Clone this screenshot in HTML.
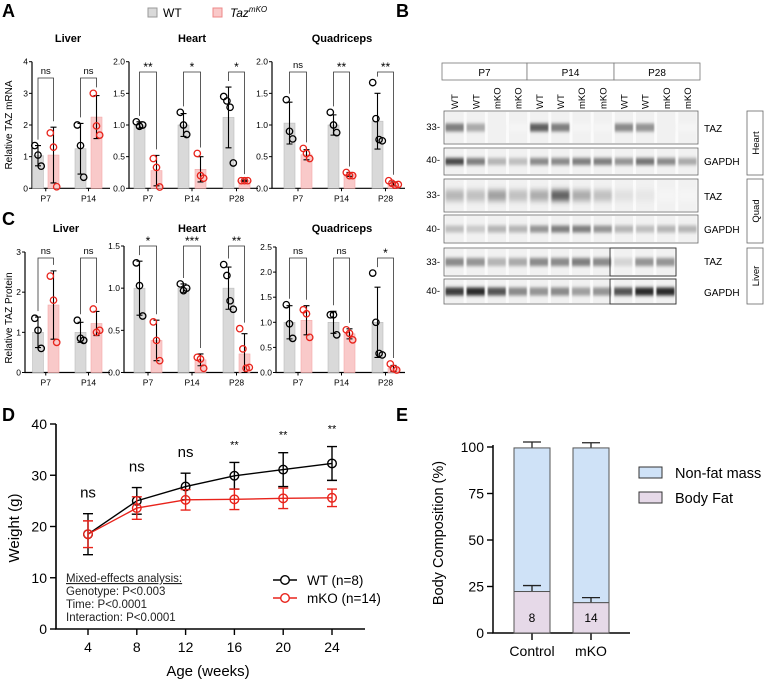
<!DOCTYPE html>
<html><head><meta charset="utf-8">
<style>
html,body{margin:0;padding:0;background:#fff;}
svg{display:block;font-family:"Liberation Sans",Arial,sans-serif;}
</style></head>
<body>
<svg id="fig" width="774" height="682" viewBox="0 0 774 682" xmlns="http://www.w3.org/2000/svg">
<defs>
<filter id="blur1" x="-20%" y="-100%" width="140%" height="300%"><feGaussianBlur stdDeviation="0.8 1.6"/></filter>
<filter id="blur2" x="-20%" y="-100%" width="140%" height="300%"><feGaussianBlur stdDeviation="1 3"/></filter>
</defs>
<g font-weight="bold" font-size="18">
<text x="2" y="17">A</text>
<text x="396" y="17">B</text>
<text x="2" y="225">C</text>
<text x="2" y="421">D</text>
<text x="396" y="421">E</text>
</g>
<g font-size="12">
<rect x="148" y="8" width="9" height="9" fill="#d9d9d9" stroke="#999"/>
<text x="163" y="17">WT</text>
<rect x="213" y="8" width="9" height="9" fill="#f9c9c9" stroke="#e88"/>
<text x="230" y="17" font-style="italic">Taz<tspan font-size="8" dy="-5">mKO</tspan></text>
</g>
<text transform="translate(12,125) rotate(-90)" text-anchor="middle" font-size="10">Relative TAZ mRNA</text>
<text transform="translate(12,318) rotate(-90)" text-anchor="middle" font-size="10">Relative TAZ Protein</text>
<g id="bars"></g>
<g id="blot"></g>
<g id="lineD"></g>
<g id="stackE"></g>
</svg>
<script>
// ===== Panel A/C data =====
const timeLabels2=["P7","P14"];
const timeLabels3=["P7","P14","P28"];
const aLiverWtMean=[1.03,1.25], aLiverWtSd=[0.32,0.8], aLiverWtPts=[[1.35,1.05,0.7],[2.0,1.35,0.35]];
const aLiverKoMean=[1.05,2.25], aLiverKoSd=[0.88,0.68], aLiverKoPts=[[1.75,1.3,0.05],[3.0,1.97,1.68]];
const aLiverSig=["ns","ns"];
const aHeartWtMean=[1.0,1.0,1.12], aHeartWtSd=[0.05,0.18,0.48], aHeartWtPts=[[1.05,0.98,1.0],[1.2,1.0,0.85],[1.45,1.38,1.28,0.4]];
const aHeartKoMean=[0.28,0.3,0.12], aHeartKoSd=[0.24,0.2,0.01], aHeartKoPts=[[0.47,0.33,0.02],[0.55,0.2,0.16],[0.12,0.12,0.12]];
const aHeartSig=["**","*","*"];
const aQuadWtMean=[1.03,1.0,1.06], aQuadWtSd=[0.33,0.16,0.44], aQuadWtPts=[[1.4,0.9,0.78],[1.2,1.0,0.88],[1.67,1.1,0.77,0.75]];
const aQuadKoMean=[0.53,0.22,0.07], aQuadKoSd=[0.08,0.03,0.03], aQuadKoPts=[[0.63,0.55,0.47],[0.25,0.2,0.2],[0.12,0.08,0.05,0.06]];
const aQuadSig=["ns","**","**"];
const cLiverWtMean=[1.0,1.0], cLiverWtSd=[0.38,0.25], cLiverWtPts=[[1.35,1.05,0.6],[1.3,0.85,0.8]];
const cLiverKoMean=[1.68,1.22], cLiverKoSd=[0.85,0.3], cLiverKoPts=[[2.4,1.8,0.75],[1.58,1.0,1.05]];
const cLiverSig=["ns","ns"];
const cHeartWtMean=[1.0,1.0,1.0], cHeartWtSd=[0.32,0.05,0.25], cHeartWtPts=[[1.3,1.03,0.67],[1.05,0.97,1.0],[1.28,1.15,0.85,0.75]];
const cHeartKoMean=[0.38,0.15,0.22], cHeartKoSd=[0.24,0.07,0.24], cHeartKoPts=[[0.6,0.38,0.14],[0.18,0.16,0.05],[0.52,0.28,0.05,0.06]];
const cHeartSig=["*","***","**"];
const cQuadWtMean=[1.0,1.0,1.0], cQuadWtSd=[0.33,0.22,0.7], cQuadWtPts=[[1.35,0.97,0.68],[1.15,1.15,0.75],[1.98,1.0,0.38,0.35]];
const cQuadKoMean=[1.04,0.77,0.08], cQuadKoSd=[0.29,0.1,0.06], cQuadKoPts=[[1.25,1.17,0.7],[0.85,0.78,0.65],[0.17,0.08,0.05]];
const cQuadSig=["ns","ns","*"];
const ticksA4=[0,1,2,3,4], ticksA2=["0.0","0.5","1.0","1.5","2.0"], ticksC3=[0,1,2,3], ticksC15=["0.0","0.5","1.0","1.5"], ticksC25=["0.0","0.5","1.0","1.5","2.0","2.5"];

// ===== Panel B data =====
const laneLabels=["WT","WT","mKO","mKO","WT","WT","mKO","mKO","WT","WT","mKO","mKO"];
const heartTaz=[0.55,0.35,0.02,0,0.7,0.55,0,0,0.5,0.45,0.02,0];
const heartGapdh=[0.8,0.55,0.3,0.25,0.5,0.5,0.55,0.55,0.45,0.6,0.5,0.35];
const quadTaz=[0.3,0.25,0.4,0.25,0.35,0.7,0.35,0.25,0.1,0.07,0,0];
const quadGapdh=[0.25,0.2,0.3,0.3,0.45,0.55,0.55,0.45,0.3,0.25,0.3,0.3];
const liverTaz=[0.5,0.45,0.3,0.35,0.5,0.5,0.55,0.5,0.15,0.45,0.45];
const liverGapdh=[0.85,0.95,0.75,0.5,0.45,0.5,0.4,0.45,0.75,0.95,0.95];

// ===== Panel D data =====
const dWeeks=[4,8,12,16,20,24];
const dWtMean=[18.5,25.0,27.8,29.9,31.1,32.3];
const dWtErr=[4.0,2.6,2.6,2.6,3.3,3.3];
const dKoMean=[18.5,23.6,25.2,25.3,25.5,25.6];
const dKoErr=[2.6,2.2,2.0,2.0,2.0,1.7];
const dSig=["ns","ns","ns","**","**","**"];
const dTicks=[0,10,20,30,40];

// ===== Panel E data =====
const eGroups=["Control","mKO"];
const eFat=[22.3,16.3], eFatErr=[3.2,2.7];
const eTotal=[99.5,99.5], eTotalErr=[3.2,2.8];
const eN=["8","14"];
const eTicks=[0,25,50,75,100];

const NS="http://www.w3.org/2000/svg";
function mk(parent,tag,attrs,text){const e=document.createElementNS(NS,tag);for(const k in attrs)e.setAttribute(k,attrs[k]);if(text!==undefined)e.textContent=text;parent.appendChild(e);return e;}
const RED="#e8231b";

function barPanel(name,cfg,wtMean,wtSd,wtPts,koMean,koSd,koPts,sig,labels,ticks){
  const g=mk(document.getElementById('bars'),'g',{});
  
  
  const y=v=>cfg.y0-(v/cfg.max)*(cfg.y0-cfg.y1);
  const t=mk(g,'text',{x:cfg.titleX,y:cfg.titleY,'text-anchor':'middle','font-size':11,'font-weight':'bold'},cfg.title);
  
  
  const ax=mk(g,'path',{d:`M${cfg.ax},${cfg.y1}V${cfg.y0}H${cfg.axEnd}`,stroke:'#000','stroke-width':1.2,fill:'none'});
  
  
  ticks.forEach((tk,i)=>{
    const v=i*cfg.max/(ticks.length-1);
    mk(g,'line',{x1:cfg.ax-3,x2:cfg.ax,y1:y(v),y2:y(v),stroke:'#000'});
    const tl=mk(g,'text',{x:cfg.ax-4,y:y(v)+3,'text-anchor':'end','font-size':8.5},String(tk));
    
    
  });
  wtMean.forEach((m,i)=>{
    const xw=cfg.wtX[i], xk=cfg.koX[i];
    mk(g,'line',{x1:(xw+xk)/2,x2:(xw+xk)/2,y1:cfg.y0,y2:cfg.y0+3,stroke:'#000'});
    const xl=mk(g,'text',{x:(xw+xk)/2,y:cfg.y0+13,'text-anchor':'middle','font-size':8.5},labels[i]);
    
    
    [[xw,m,wtSd[i],wtPts[i],'#d9d9d9','#bdbdbd','#000','wt'],[xk,koMean[i],koSd[i],koPts[i],'#f9c9c9','#f3a9a9',RED,'ko']].forEach(s=>{
      const [cx,mean,sd,pts,fill,strk,pc,tag]=s;
      const b=mk(g,'rect',{x:cx-5.5,y:y(mean),width:11,height:cfg.y0-y(mean),fill:fill,stroke:strk,'stroke-width':0.6});
      
      
      const lo=Math.max(0,mean-sd), hi=mean+sd;
      mk(g,'path',{d:`M${cx},${y(lo)}V${y(hi)}M${cx-3},${y(hi)}H${cx+3}M${cx-3},${y(lo)}H${cx+3}`,stroke:'#000','stroke-width':1.1,fill:'none'});
      pts.forEach((p,j)=>{
        const off=(j-(pts.length-1)/2)*3.2;
        const c=mk(g,'circle',{cx:cx+off,cy:y(p),r:3.2,fill:'none',stroke:pc,'stroke-width':1.3});
        
        
      });
    });
    const topW=Math.min(y(m+wtSd[i]),...wtPts[i].map(y))-6;
    const topK=Math.min(y(koMean[i]+koSd[i]),...koPts[i].map(y))-6;
    const br=mk(g,'path',{d:`M${xw},${topW}V${cfg.br}H${xk}V${topK}`,stroke:'#333','stroke-width':0.8,fill:'none'});
    
    
    const st=sig[i].startsWith('*');
    const sl=mk(g,'text',{x:(xw+xk)/2,y:cfg.br-(st?1:4),'text-anchor':'middle','font-size':st?12:9.5},sig[i]);
    
    
  });
}
const A_Y0=188.3,A_Y1=61.7,C_Y0=372.5;
barPanel('a-liver',{ax:32,axEnd:110,y0:A_Y0,y1:A_Y1,max:4,wtX:[38,80.5],koX:[53.5,96.5],title:'Liver',titleX:68,titleY:42,br:78},aLiverWtMean,aLiverWtSd,aLiverWtPts,aLiverKoMean,aLiverKoSd,aLiverKoPts,aLiverSig,timeLabels2,ticksA4);
barPanel('a-heart',{ax:129,axEnd:258,y0:A_Y0,y1:A_Y1,max:2,wtX:[139.5,183.5,228.5],koX:[156.5,200.5,244.5],title:'Heart',titleX:192,titleY:42,br:72},aHeartWtMean,aHeartWtSd,aHeartWtPts,aHeartKoMean,aHeartKoSd,aHeartKoPts,aHeartSig,timeLabels3,ticksA2);
barPanel('a-quad',{ax:272,axEnd:405,y0:A_Y0,y1:A_Y1,max:2,wtX:[289.5,333.5,377.5],koX:[306.5,349.5,393.5],title:'Quadriceps',titleX:342,titleY:42,br:72},aQuadWtMean,aQuadWtSd,aQuadWtPts,aQuadKoMean,aQuadKoSd,aQuadKoPts,aQuadSig,timeLabels3,ticksA2);
barPanel('c-liver',{ax:25,axEnd:110,y0:C_Y0,y1:252,max:3,wtX:[38,80.5],koX:[53.5,96.5],title:'Liver',titleX:66,titleY:232,br:258},cLiverWtMean,cLiverWtSd,cLiverWtPts,cLiverKoMean,cLiverKoSd,cLiverKoPts,cLiverSig,timeLabels2,ticksC3);
barPanel('c-heart',{ax:124,axEnd:258,y0:C_Y0,y1:246,max:1.5,wtX:[139.5,183.5,228.5],koX:[156.5,200.5,244.5],title:'Heart',titleX:192,titleY:232,br:246},cHeartWtMean,cHeartWtSd,cHeartWtPts,cHeartKoMean,cHeartKoSd,cHeartKoPts,cHeartSig,timeLabels3,ticksC15);
barPanel('c-quad',{ax:276,axEnd:405,y0:C_Y0,y1:247,max:2.5,wtX:[289.5,333.5,377.5],koX:[306.5,349.5,393.5],title:'Quadriceps',titleX:342,titleY:232,br:258},cQuadWtMean,cQuadWtSd,cQuadWtPts,cQuadKoMean,cQuadKoSd,cQuadKoPts,cQuadSig,timeLabels3,ticksC25);

// ===== Panel B =====
(function(){
  const g=document.getElementById('blot');
  
  
  const X0=444,X1=698,LW=(X1-X0)/12;
  const hdr=[['P7',442,527],['P14',527,614],['P28',614,700]];
  hdr.forEach(h=>{
    const r=mk(g,'rect',{x:h[1],y:63,width:h[2]-h[1],height:17,fill:'#fff',stroke:'#777','stroke-width':0.8});
    
    
    mk(g,'text',{x:(h[1]+h[2])/2,y:76,'text-anchor':'middle','font-size':10},h[0]);
  });
  laneLabels.forEach((l,i)=>{
    const cx=X0+LW*(i+0.5);
    const t=mk(g,'text',{transform:`translate(${cx+3.5},109) rotate(-90)`,'font-size':9.5},l);
    
    
  });
  function row(name,vals,y0,y1,xEnd,bh,blur,split){
    const n=vals.length, lw=(xEnd-X0)/n;
    const box=mk(g,'g',{});
    
    
    mk(box,'rect',{x:X0,y:y0,width:xEnd-X0,height:y1-y0,fill:'#fbfbfb'});
    vals.forEach((v,i)=>{
      const bx=X0+lw*i+1.5;
      mk(box,'rect',{x:bx,y:y0+1,width:lw-3,height:y1-y0-2,fill:'#f1f1f1'});
      const c=Math.round(245-v*215);
      const band=mk(box,'rect',{x:bx,y:(y0+y1)/2-bh/2,width:lw-3,height:bh,fill:`rgb(${c},${c},${c})`,filter:`url(#${blur})`});
      
      
    });
    mk(box,'rect',{x:X0,y:y0,width:xEnd-X0,height:y1-y0,fill:'none',stroke:'#666','stroke-width':0.8});
    if(split) mk(box,'rect',{x:split,y:y0,width:xEnd-split,height:y1-y0,fill:'none',stroke:'#333','stroke-width':0.9});
  }
  row('heart-taz-row',heartTaz,111,144,X1,8,'blur1');
  row('heart-gapdh-row',heartGapdh,148,175,X1,7,'blur1');
  row('quad-taz-row',quadTaz,179,212,X1,11,'blur2');
  row('quad-gapdh-row',quadGapdh,215,243,X1,7,'blur1');
  row('liver-taz-row',liverTaz,248,276,676,8,'blur1',610);
  row('liver-gapdh-row',liverGapdh,279,304,676,8,'blur1',610);
  [['33-',130],['40-',163],['33-',198],['40-',232],['33-',265],['40-',294]].forEach(m=>{
    const t=mk(g,'text',{x:440,y:m[1],'text-anchor':'end','font-size':9.5},m[0]);
    
    
  });
  [['TAZ',132],['GAPDH',165],['TAZ',200],['GAPDH',233],['TAZ',265],['GAPDH',296]].forEach(m=>{
    const t=mk(g,'text',{x:704,y:m[1],'font-size':10},m[0]);
    
    
  });
  [['Heart',111,175],['Quad',179,243],['Liver',248,304]].forEach(s=>{
    const r=mk(g,'rect',{x:747,y:s[1],width:16,height:s[2]-s[1],fill:'#fff',stroke:'#666','stroke-width':0.8});
    
    
    mk(g,'text',{transform:`translate(759,${(s[1]+s[2])/2}) rotate(-90)`,'text-anchor':'middle','font-size':9.5},s[0]);
  });
})();

// ===== Panel D =====
(function(){
  const g=document.getElementById('lineD');
  
  
  const Y0=629,Y1=424,AX=56;
  const y=v=>Y0-v/40*(Y0-Y1);
  const x=w=>88+(w-4)*12.2;
  const ax=mk(g,'path',{d:`M${AX},${Y1}V${Y0}H365`,stroke:'#000','stroke-width':1.6,fill:'none'});
  
  
  dTicks.forEach(t=>{
    mk(g,'line',{x1:AX-6,x2:AX,y1:y(t),y2:y(t),stroke:'#000','stroke-width':1.4});
    const l=mk(g,'text',{x:AX-9,y:y(t)+5,'text-anchor':'end','font-size':14},String(t));
    
    
  });
  dWeeks.forEach(w=>{
    mk(g,'line',{x1:x(w),x2:x(w),y1:Y0,y2:Y0+6,stroke:'#000','stroke-width':1.4});
    const l=mk(g,'text',{x:x(w),y:Y0+23,'text-anchor':'middle','font-size':14},String(w));
    
    
  });
  const xt=mk(g,'text',{x:208,y:676,'text-anchor':'middle','font-size':15},'Age (weeks)');
  
  
  const yt=mk(g,'text',{transform:'translate(19,528) rotate(-90)','text-anchor':'middle','font-size':15},'Weight (g)');
  
  
  function series(name,mean,err,col){
    const s=mk(g,'g',{});
    
    
    const l=mk(s,'polyline',{points:dWeeks.map((w,i)=>x(w)+','+y(mean[i])).join(' '),fill:'none',stroke:col,'stroke-width':1.4});
    
    
    dWeeks.forEach((w,i)=>{
      const cx=x(w),hi=y(mean[i]+err[i]),lo=y(mean[i]-err[i]);
      mk(s,'path',{d:`M${cx},${lo}V${hi}M${cx-5},${hi}H${cx+5}M${cx-5},${lo}H${cx+5}`,stroke:col,'stroke-width':1.4,fill:'none'});
      const c=mk(s,'circle',{cx:cx,cy:y(mean[i]),r:4.3,fill:'none',stroke:col,'stroke-width':1.4});
      
      
    });
  }
  series('wt',dWtMean,dWtErr,'#000');
  series('mko',dKoMean,dKoErr,RED);
  dWeeks.forEach((w,i)=>{
    const top=Math.max(dWtMean[i]+dWtErr[i],dKoMean[i]+dKoErr[i]);
    const st=dSig[i]==='**';
    const t=mk(g,'text',{x:x(w),y:y(top)-(st?14:16),'text-anchor':'middle','font-size':st?11:15},dSig[i]);
    
    
  });
  const st=mk(g,'g',{'font-size':11.5,fill:'#222'});
  
  
  mk(st,'text',{x:66,y:582,'text-decoration':'underline'},'Mixed-effects analysis:');
  mk(st,'text',{x:66,y:595},'Genotype: P<0.003');
  mk(st,'text',{x:66,y:608},'Time: P<0.0001');
  mk(st,'text',{x:66,y:621},'Interaction: P<0.0001');
  [['WT (n=8)','#000',580],['mKO (n=14)',RED,598]].forEach(e=>{
    const lg=mk(g,'g',{});
    
    
    mk(lg,'line',{x1:273,x2:297,y1:e[2],y2:e[2],stroke:e[1],'stroke-width':1.4});
    mk(lg,'circle',{cx:285,cy:e[2],r:4.3,fill:'#fff',stroke:e[1],'stroke-width':1.4});
    mk(lg,'text',{x:307,y:e[2]+5,'font-size':13.5},e[0]);
  });
})();

// ===== Panel E =====
(function(){
  const g=document.getElementById('stackE');
  
  
  const Y0=633,Y1=447,AX=493;
  const y=v=>Y0-v/100*(Y0-Y1);
  const cx=[532,591], bw=36;
  const ax=mk(g,'path',{d:`M${AX},${Y1-2}V${Y0}H630`,stroke:'#000','stroke-width':1.5,fill:'none'});
  
  
  eTicks.forEach(t=>{
    mk(g,'line',{x1:AX-6,x2:AX,y1:y(t),y2:y(t),stroke:'#000','stroke-width':1.4});
    const l=mk(g,'text',{x:AX-9,y:y(t)+5,'text-anchor':'end','font-size':14},String(t));
    
    
  });
  const yt=mk(g,'text',{transform:'translate(443,533) rotate(-90)','text-anchor':'middle','font-size':14.5},'Body Composition (%)');
  
  
  eGroups.forEach((grp,i)=>{
    const x=cx[i];
    mk(g,'line',{x1:x,x2:x,y1:Y0,y2:Y0+7,stroke:'#000','stroke-width':1.4});
    const l=mk(g,'text',{x:x,y:Y0+23,'text-anchor':'middle','font-size':14},grp);
    
    
    mk(g,'path',{d:`M${x},${y(eTotal[i])}V${y(eTotal[i]+eTotalErr[i])}M${x-9},${y(eTotal[i]+eTotalErr[i])}H${x+9}`,stroke:'#222','stroke-width':1.3,fill:'none'});
    const nf=mk(g,'rect',{x:x-bw/2,y:y(eTotal[i]),width:bw,height:y(eFat[i])-y(eTotal[i]),fill:'#cfe2f7',stroke:'#555','stroke-width':1});
    
    
    mk(g,'path',{d:`M${x},${y(eFat[i])}V${y(eFat[i]+eFatErr[i])}M${x-9},${y(eFat[i]+eFatErr[i])}H${x+9}`,stroke:'#222','stroke-width':1.3,fill:'none'});
    const ft=mk(g,'rect',{x:x-bw/2,y:y(eFat[i]),width:bw,height:Y0-y(eFat[i]),fill:'#e6d9e8',stroke:'#555','stroke-width':1});
    
    
    const nt=mk(g,'text',{x:x,y:622,'text-anchor':'middle','font-size':12},eN[i]);
    
    
  });
  [['Non-fat mass','#cfe2f7',467],['Body Fat','#e6d9e8',492]].forEach(e=>{
    const lg=mk(g,'g',{});
    
    
    mk(lg,'rect',{x:639,y:e[2],width:23,height:11,fill:e[1],stroke:'#333','stroke-width':1});
    mk(lg,'text',{x:675,y:e[2]+11,'font-size':14.5},e[0]);
  });
})();
</script>
</body></html>
